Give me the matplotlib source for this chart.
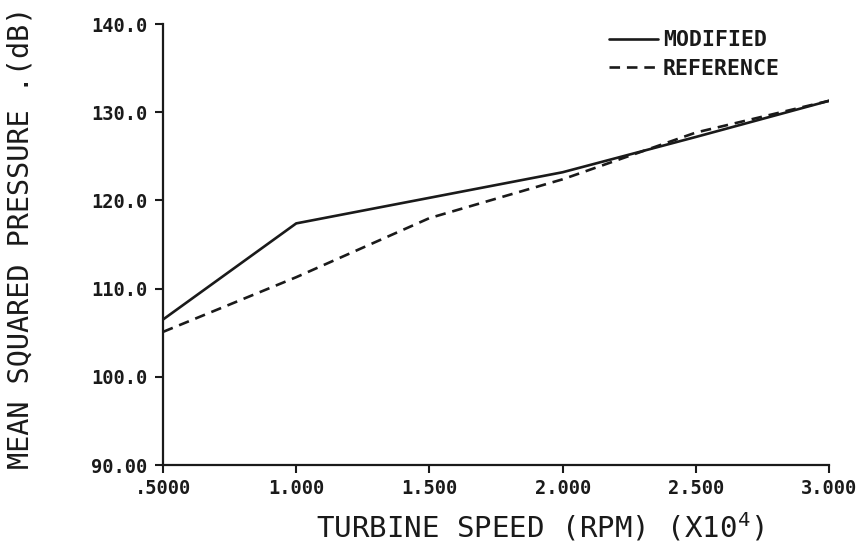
import matplotlib
matplotlib.use("Agg")
import matplotlib.pyplot as plt

# Turbine speed (x10^4 RPM) and mean squared pressure (dB)
speed = [0.5, 1.0, 1.5, 2.0, 2.5, 3.0]
modified = [106.5, 117.4, 120.3, 123.2, 127.2, 131.3]
reference = [105.1, 111.3, 118.0, 122.4, 127.7, 131.3]

x_ticks = [0.5, 1.0, 1.5, 2.0, 2.5, 3.0]
x_tick_labels = [".5000", "1.000", "1.500", "2.000", "2.500", "3.000"]
y_ticks = [90, 100, 110, 120, 130, 140]
y_tick_labels = ["90.00", "100.0", "110.0", "120.0", "130.0", "140.0"]

plt.rcParams["mathtext.fontset"] = "dejavusans"
MONO = "DejaVu Sans Mono"
INK = "#1a1a1a"

W, H = 861, 559
fig = plt.figure(figsize=(W / 100, H / 100), dpi=100)
ax = fig.add_axes([0.1893, 0.168, 0.7737, 0.789])

ax.plot(speed, modified, color=INK, lw=1.9, solid_capstyle="round",
        label="MODIFIED")
ax.plot(speed, reference, color=INK, lw=1.9, linestyle=(0, (4, 2.6)),
        label="REFERENCE")

ax.set_xlim(0.5, 3.0)
ax.set_ylim(90, 140)
ax.set_xticks(x_ticks)
ax.set_xticklabels(x_tick_labels)
ax.set_yticks(y_ticks)
ax.set_yticklabels(y_tick_labels)

for side in ("top", "right"):
    ax.spines[side].set_visible(False)
for side in ("left", "bottom"):
    ax.spines[side].set_linewidth(1.6)
    ax.spines[side].set_color(INK)

ax.tick_params(axis="both", direction="out", length=6, width=1.5,
               colors=INK, labelsize=13.5)
ax.tick_params(axis="y", pad=5)
ax.tick_params(axis="x", pad=4)
for lbl in ax.get_xticklabels() + ax.get_yticklabels():
    lbl.set_family(MONO)
    lbl.set_weight("bold")

# Axis titles placed in figure pixels
fig.text(540 / W, 1 - 527 / H, r"TURBINE SPEED (RPM) (X10$^{\mathtt{4}}$)",
         family=MONO, fontsize=21, color=INK, ha="center", va="center")
fig.text(21 / W, 1 - 238 / H, "MEAN SQUARED PRESSURE .(dB)",
         family=MONO, fontsize=20.5, color=INK, ha="center", va="center",
         rotation=90)

leg = ax.legend(loc="upper right", bbox_to_anchor=(0.955, 1.03), frameon=False,
                prop={"family": MONO, "weight": "bold", "size": 15.5},
                handlelength=2.3, handletextpad=0.2, labelspacing=0.4)
for t in leg.get_texts():
    t.set_color(INK)

fig.savefig("out.png", dpi=100, facecolor="white")
